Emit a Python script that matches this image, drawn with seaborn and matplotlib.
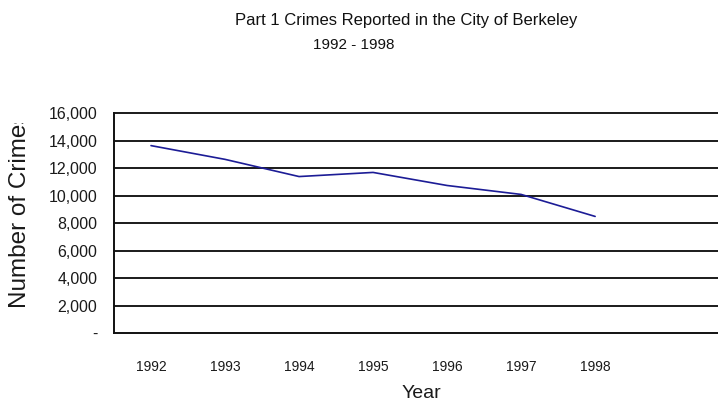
import matplotlib
matplotlib.use("Agg")
import matplotlib.pyplot as plt
import seaborn as sns
import numpy as np
from matplotlib.transforms import Bbox

years = ["1992", "1993", "1994", "1995", "1996", "1997", "1998"]
crimes = [13650, 12650, 11400, 11700, 10750, 10100, 8500]
y_ticks = [0, 2000, 4000, 6000, 8000, 10000, 12000, 14000, 16000]
y_tick_labels = ["-", "2,000", "4,000", "6,000", "8,000", "10,000", "12,000", "14,000", "16,000"]

sns.set_style("white")
plt.rcParams["font.family"] = ["Liberation Sans", "DejaVu Sans"]

fig = plt.figure(figsize=(7.18, 4.04), dpi=100)
ax = fig.add_axes([114/718, 1 - 333.3/404, 1 - 114/718, 220/404])

pos = np.arange(len(years))
sns.lineplot(x=pos, y=crimes, ax=ax, color="#1c1c96", lw=1.2)

ax.set_ylim(0, 16000)
ax.set_xlim(-0.5, 7.66)
ax.set_yticks(y_ticks)
ax.set_yticklabels(y_tick_labels, fontsize=11.5, color="#1a1a1a")
for yv in y_ticks[1:]:
    ax.axhline(yv, color="#1a1a1a", lw=1.4, zorder=0, clip_on=False)

ax.set_xticks(np.arange(-0.5, len(years), 1.0))
ax.set_xticklabels([])
ax.set_xticks(pos, minor=True)
ax.set_xticklabels(years, minor=True, fontsize=10, color="#1a1a1a")
ax.tick_params(axis="x", which="major", direction="out", length=3.5, width=1.2, color="#111111")
ax.tick_params(axis="x", which="minor", length=0, pad=19)
ax.tick_params(axis="y", direction="out", length=3, width=1.2, color="#111111", pad=9)

for s in ["top", "right"]:
    ax.spines[s].set_visible(False)
for s in ["left", "bottom"]:
    ax.spines[s].set_color("#111111")
    ax.spines[s].set_linewidth(1.4)

ax.set_xlabel("Year", fontsize=14, color="#1a1a1a", va="center", ha="center")
ax.xaxis.set_label_coords((421 - 114) / (718 - 114), -(393 - 333.3) / 220)

fig.text(406/718, 1 - 21/404, "Part 1 Crimes Reported in the City of Berkeley",
         ha="center", va="center", fontsize=12, color="#111111")
fig.text(354/718, 1 - 45/404, "1992 - 1998",
         ha="center", va="center", fontsize=11, color="#111111")

t = fig.text(20/718, 1 - 308/404, "Number of Crimes", rotation=90,
             rotation_mode="anchor", ha="left", va="center",
             fontsize=17.5, color="#1a1a1a")
t.set_clip_box(Bbox.from_extents(0, 0, 718, 404 - 123))
t.set_clip_on(True)

fig.savefig("out.png", dpi=100)
